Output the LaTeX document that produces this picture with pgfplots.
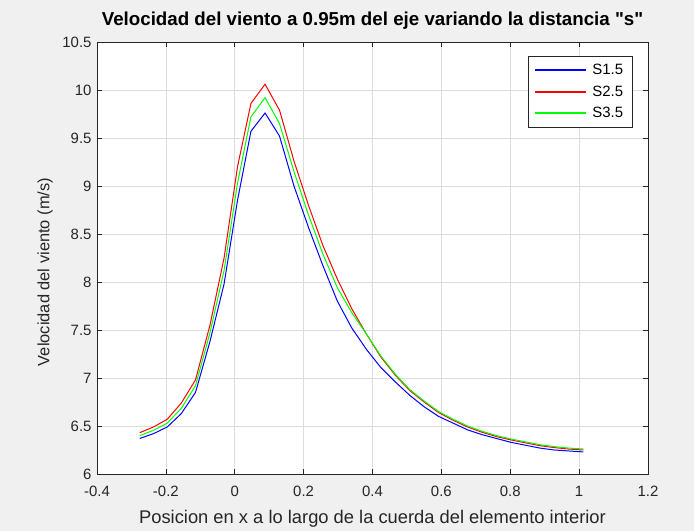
\documentclass[border=0pt]{standalone}
\usepackage{pgfplots}
\pgfplotsset{compat=1.18}
\usepackage{pgfplotstable}
\usepackage{fontspec}
\setmainfont{Liberation Sans}
% same family without TeX quote ligatures, so " stays straight
\newfontfamily\plainsans{Liberation Sans}

\definecolor{figbg}{RGB}{240,240,240}
\definecolor{axcol}{RGB}{38,38,38}
\definecolor{gridc}{RGB}{222,222,222}

% wind speed along the chord, one table per spacing s
\pgfplotstableread{
x      v
-0.276 6.37
-0.236 6.42
-0.196 6.49
-0.155 6.63
-0.114 6.85
-0.072 7.38
-0.031 7.98
0.008  8.85
0.047  9.57
0.088  9.76
0.130  9.52
0.172  9.00
0.214  8.57
0.256  8.17
0.298  7.80
0.340  7.52
0.382  7.30
0.424  7.11
0.466  6.96
0.508  6.82
0.550  6.70
0.592  6.60
0.634  6.53
0.676  6.46
0.718  6.41
0.760  6.37
0.802  6.33
0.844  6.30
0.886  6.27
0.928  6.25
0.970  6.24
1.012  6.23
}\sA

\pgfplotstableread{
x      v
-0.276 6.43
-0.236 6.49
-0.196 6.57
-0.155 6.74
-0.114 6.98
-0.072 7.55
-0.031 8.25
0.008  9.20
0.047  9.86
0.088  10.06
0.130  9.79
0.172  9.26
0.214  8.80
0.256  8.38
0.298  8.03
0.340  7.72
0.382  7.46
0.424  7.22
0.466  7.03
0.508  6.87
0.550  6.75
0.592  6.64
0.634  6.56
0.676  6.49
0.718  6.435
0.760  6.39
0.802  6.355
0.844  6.325
0.886  6.295
0.928  6.275
0.970  6.26
1.012  6.25
}\sB

\pgfplotstableread{
x      v
-0.276 6.40
-0.236 6.455
-0.196 6.53
-0.155 6.685
-0.114 6.92
-0.072 7.47
-0.031 8.12
0.008  9.03
0.047  9.72
0.088  9.92
0.130  9.65
0.172  9.15
0.214  8.70
0.256  8.29
0.298  7.94
0.340  7.68
0.382  7.46
0.424  7.23
0.466  7.04
0.508  6.88
0.550  6.76
0.592  6.65
0.634  6.57
0.676  6.50
0.718  6.445
0.760  6.40
0.802  6.365
0.844  6.335
0.886  6.305
0.928  6.285
0.970  6.27
1.012  6.26
}\sC

\begin{document}
\begin{tikzpicture}
% figure window background
\fill[figbg] (-97bp,-57bp) rectangle (597bp,474bp);
\useasboundingbox (-97bp,-57bp) rectangle (597bp,474bp);
\begin{axis}[
  at={(0bp,0bp)}, anchor=south west,
  scale only axis, width=551bp, height=432bp,
  xmin=-0.4, xmax=1.2, ymin=6, ymax=10.5,
  axis background/.style={fill=white},
  xtick={-0.4,-0.2,0,0.2,0.4,0.6,0.8,1,1.2},
  xticklabels={-0.4,-0.2,0,0.2,0.4,0.6,0.8,1,1.2},
  ytick={6,6.5,7,7.5,8,8.5,9,9.5,10,10.5},
  yticklabels={6,6.5,7,7.5,8,8.5,9,9.5,10,10.5},
  tick align=inside, major tick length=5bp,
  xtick pos=both, ytick pos=both,
  tick style={axcol, line width=0.6bp},
  axis line style={axcol, line width=0.7bp},
  grid=major,
  major grid style={gridc, line width=0.6bp},
  ticklabel style={font=\fontsize{15}{18}\selectfont, text=axcol},
  xticklabel style={yshift=-9bp},
  yticklabel style={xshift=-2bp},
  title={Velocidad del viento a 0.95m del eje variando la distancia "s"},
  title style={font=\plainsans\fontsize{18.8}{20}\selectfont\bfseries, text=black,
    at={(0.5,1)}, anchor=base, yshift=11bp},
  xlabel={Posicion en x a lo largo de la cuerda del elemento interior},
  xlabel style={font=\fontsize{18.4}{20}\selectfont, text=axcol,
    at={(0.5,0)}, anchor=center, yshift=-45bp},
  ylabel={Velocidad del viento (m/s)},
  ylabel style={font=\fontsize{16.5}{20}\selectfont, text=axcol,
    at={(0,0.5)}, anchor=center, yshift=52bp, xshift=-14bp},
  legend style={at={(1,1)}, anchor=north east, xshift=-15.7bp, yshift=-14bp,
    draw=axcol, fill=white,
    font=\fontsize{15}{18}\selectfont,
    row sep=6bp, inner xsep=7bp, inner ysep=5.5bp,
    /tikz/every odd column/.append style={column sep=4bp}},
  legend cell align=left,
  % each legend sample is a thin filled strip in the series colour
  legend image code/.code={\fill[#1] (0bp,-0.5bp) rectangle (50bp,0.5bp);},
]
\addplot[blue, line width=1bp] table[x=x, y=v] {\sA};
\addlegendentry{S1.5}
\addplot[red, line width=1bp] table[x=x, y=v] {\sB};
\addlegendentry{S2.5}
\addplot[green, line width=1bp] table[x=x, y=v] {\sC};
\addlegendentry{S3.5}
\end{axis}
\end{tikzpicture}
\end{document}
